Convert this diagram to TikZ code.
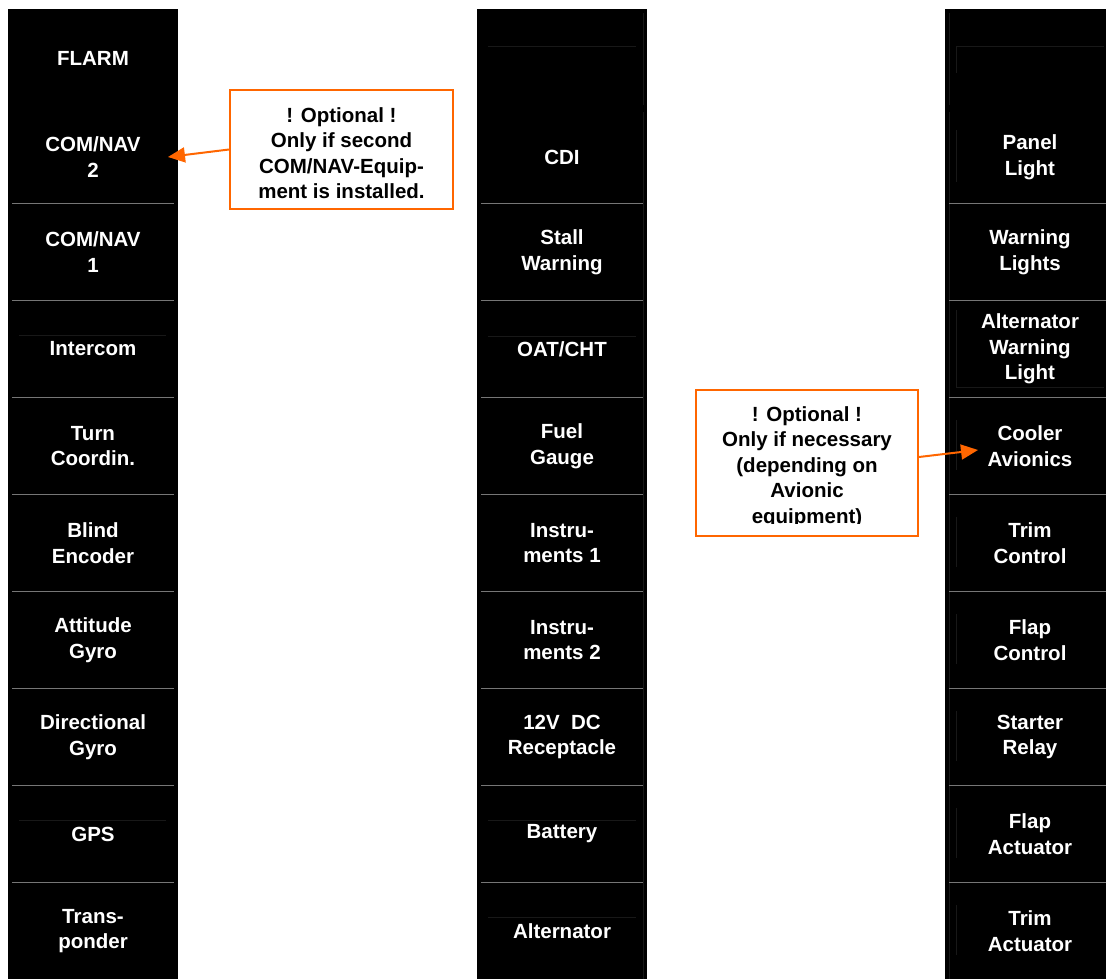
\documentclass[tikz,border=0pt]{standalone}
\usepackage{fontspec}
\setmainfont{Liberation Sans}
\usetikzlibrary{arrows.meta}
\definecolor{orng}{RGB}{255,102,0}
\definecolor{sepgray}{RGB}{118,118,118}
\definecolor{faint}{RGB}{24,24,24}
\begin{document}
\begin{tikzpicture}[x=1pt,y=-1pt,
  cell/.style={text=white,font=\bfseries\fontsize{20.5}{25.5}\selectfont,align=center,inner sep=0pt},
  notetext/.style={text=black,font=\bfseries\fontsize{20.5}{25.5}\selectfont,align=center,inner sep=0pt},
  notebox/.style={draw=orng,line width=2pt,fill=white,inner sep=0pt},
  sep/.style={draw=sepgray,line width=1pt},
  faintline/.style={draw=faint,line width=0.8pt},
  callarrow/.style={draw=orng,line width=2pt,-{Triangle[length=17pt,width=15pt]}}]
\useasboundingbox (0,0) rectangle (1106,979);

% columns
\fill[black] (8,9) rectangle (178,979);
\fill[black] (477,9) rectangle (647,979);
\fill[black] (945,9) rectangle (1106,979);

% faint construction lines
\draw[faintline] (19,335) -- (166,335);
\draw[faintline] (19,820) -- (166,820);
\draw[faintline] (488,46) -- (636,46);
\draw[faintline] (488,336) -- (636,336);
\draw[faintline] (488,820) -- (636,820);
\draw[faintline] (488,917) -- (636,917);
\draw[faintline] (643,13) -- (643,105);
\draw[faintline] (643,112) -- (643,979);
\draw[faintline] (949,13) -- (949,105);
\draw[faintline] (949,112) -- (949,979);
\draw[faintline] (956,46) -- (1104,46);
\draw[faintline] (956,46) -- (956,73);
\draw[faintline] (956,130) -- (956,182);
\draw[faintline] (956,310) -- (956,387) -- (1104,387);
\foreach \yy in {420,517,614,711,808,905}{
  \draw[faintline] (956,\yy) -- (956,\yy+50);
}

% separators
\foreach \yy in {203,300,397,494,591,688,785,882}{
  \draw[sep] (12,\yy) -- (174,\yy);
  \draw[sep] (481,\yy) -- (643,\yy);
  \draw[sep] (949,\yy) -- (1106,\yy);
}

% left column
\node[cell] (flarm) at (93,58) {FLARM};
\node[cell] (com2) at (93,157) {COM/NAV\\2};
\node[cell] (com1) at (93,252) {COM/NAV\\1};
\node[cell] (intercom) at (93,349) {Intercom};
\node[cell] (turn) at (93,446) {Turn\\Coordin.};
\node[cell] (blind) at (93,543) {Blind\\Encoder};
\node[cell] (attitude) at (93,640) {Attitude\\Gyro};
\node[cell] (directional) at (93,737) {Directional\\Gyro};
\node[cell] (gps) at (93,834) {GPS};
\node[cell] (transponder) at (93,931) {Trans-\\ponder};

% middle column
\node[cell] (cdi) at (562,157) {CDI};
\node[cell] (stall) at (562,252) {Stall\\Warning};
\node[cell] (oat) at (562,349) {OAT/CHT};
\node[cell] (fuel) at (562,446) {Fuel\\Gauge};
\node[cell] (instr1) at (562,543) {Instru-\\ments 1};
\node[cell] (instr2) at (562,640) {Instru-\\ments 2};
\node[cell] (recept) at (562,737) {12V\ \ DC\\Receptacle};
\node[cell] (battery) at (562,834) {Battery};
\node[cell] (alternator) at (562,931) {Alternator};

% right column
\node[cell] (panel) at (1030,157) {Panel\\Light};
\node[cell] (warn) at (1030,252) {Warning\\Lights};
\node[cell] (altwarn) at (1030,349) {Alternator\\Warning\\Light};
\node[cell] (cooler) at (1030,446) {Cooler\\Avionics};
\node[cell] (trim) at (1030,543) {Trim\\Control};
\node[cell] (flap) at (1030,640) {Flap\\Control};
\node[cell] (starter) at (1030,737) {Starter\\Relay};
\node[cell] (flapact) at (1030,834) {Flap\\Actuator};
\node[cell] (trimact) at (1030,931) {Trim\\Actuator};

% callout 1
\node[notebox,minimum width=223pt,minimum height=119pt] (box1) at (341.5,149.5) {};
\node[notetext] (note1) at (341.5,153) {! Optional !\\Only if second\\COM/NAV-Equip-\\ment is installed.};
\coordinate (tip1) at (168,157);
\draw[callarrow] (box1.west) -- (tip1);

% callout 2
\node[notebox,minimum width=222pt,minimum height=146pt] (box2) at (807,463) {};
\begin{scope}
  \clip (698,392) rectangle (916,523.5);
  \node[notetext] (note2) at (807,467) {! Optional !\\Only if necessary\\(depending on\\Avionic\\equipment)};
\end{scope}
\coordinate (tip2) at (978,450);
\draw[callarrow] ([yshift=6pt]box2.east) -- (tip2);
\end{tikzpicture}
\end{document}
